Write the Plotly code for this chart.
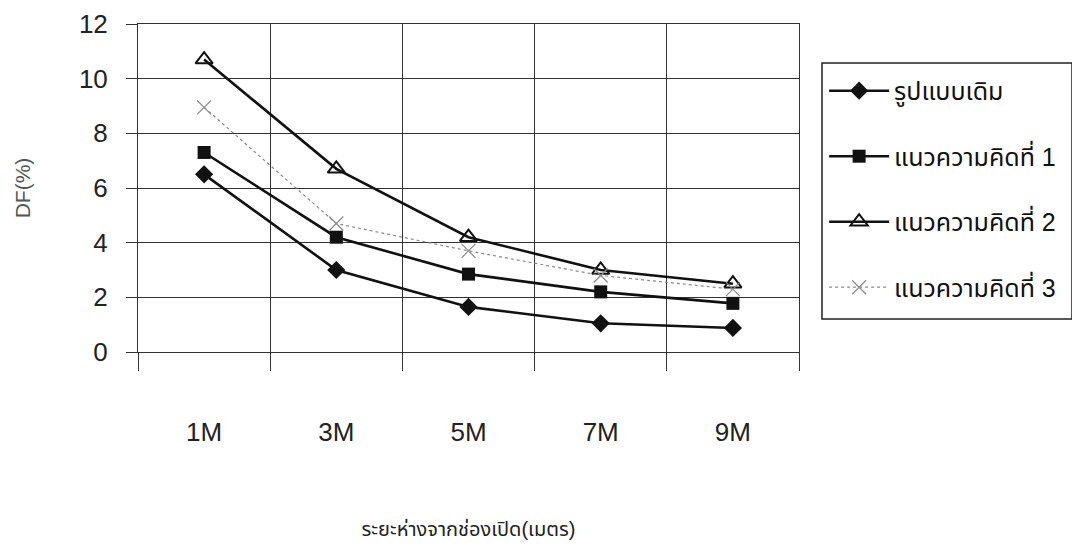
import plotly.graph_objects as go

categories = ["1M", "3M", "5M", "7M", "9M"]
series_names = ["รูปแบบเดิม", "แนวความคิดที่ 1", "แนวความคิดที่ 2", "แนวความคิดที่ 3"]
s_original = [6.5, 3.0, 1.65, 1.05, 0.88]
s_concept1 = [7.3, 4.2, 2.85, 2.2, 1.78]
s_concept2 = [10.7, 6.7, 4.2, 3.0, 2.5]
s_concept3 = [8.95, 4.7, 3.7, 2.8, 2.3]
y_ticks = [0, 2, 4, 6, 8, 10, 12]

FONT = "Liberation Sans, Arial, Noto Sans Thai, sans-serif"

styles = [
    dict(line=dict(color="#111111", width=2.6), marker=dict(symbol="diamond", size=14, color="#111111")),
    dict(line=dict(color="#111111", width=2.6), marker=dict(symbol="square", size=13, color="#111111")),
    dict(line=dict(color="#111111", width=2.6),
         marker=dict(symbol="triangle-up-open", size=15, color="#111111", line=dict(width=2))),
    dict(line=dict(color="#8a8a8a", width=1.2, dash="dot"),
         marker=dict(symbol="x-thin-open", size=14, color="#8a8a8a", line=dict(width=1.2, color="#8a8a8a"))),
]
values = [s_original, s_concept1, s_concept2, s_concept3]

fig = go.Figure()
for i, (name, vals, st) in enumerate(zip(series_names, values, styles)):
    fig.add_trace(go.Scatter(
        x=categories, y=vals, name=name, mode="lines+markers",
        legendgroup=f"g{i}", **st,
    ))

# legend frame
fig.add_shape(type="rect", xref="paper", yref="paper",
              x0=1.0348, x1=1.413, y0=0.1006, y1=0.881,
              line=dict(color="#222222", width=1.5), fillcolor="rgba(0,0,0,0)")

fig.update_layout(
    width=1080, height=547,
    paper_bgcolor="white", plot_bgcolor="white",
    margin=dict(l=130, r=289, t=16, b=203, autoexpand=False),
    font=dict(family=FONT, color="#222222", size=20),
    showlegend=True,
    legend=dict(
        x=1.038, y=0.866, xanchor="left", yanchor="top",
        borderwidth=0,
        font=dict(size=25, family=FONT, color="#111111"),
        tracegroupgap=30, itemwidth=60,
        bgcolor="rgba(0,0,0,0)",
    ),
    xaxis=dict(
        type="category", tickson="boundaries", range=[-0.5, 4.5],
        showgrid=True, gridcolor="#333333", gridwidth=1,
        ticks="outside", ticklen=18, tickcolor="#333333", tickwidth=1,
        ticklabelstandoff=57,
        tickfont=dict(size=26),
        showline=True, linecolor="#333333", linewidth=1, mirror=True,
        zeroline=False,
        title=dict(text="ระยะห่างจากช่องเปิด(เมตร)", font=dict(size=20), standoff=75),
    ),
    yaxis=dict(
        range=[0, 12], tickvals=y_ticks,
        showgrid=True, gridcolor="#333333", gridwidth=1,
        ticks="outside", ticklen=11, tickcolor="#333333", tickwidth=1,
        ticklabelstandoff=13,
        tickfont=dict(size=26),
        showline=True, linecolor="#333333", linewidth=1, mirror=True,
        zeroline=False,
        title=dict(text="DF(%)", font=dict(size=21, color="#555555"), standoff=42),
    ),
)

fig.write_html("out.html")
